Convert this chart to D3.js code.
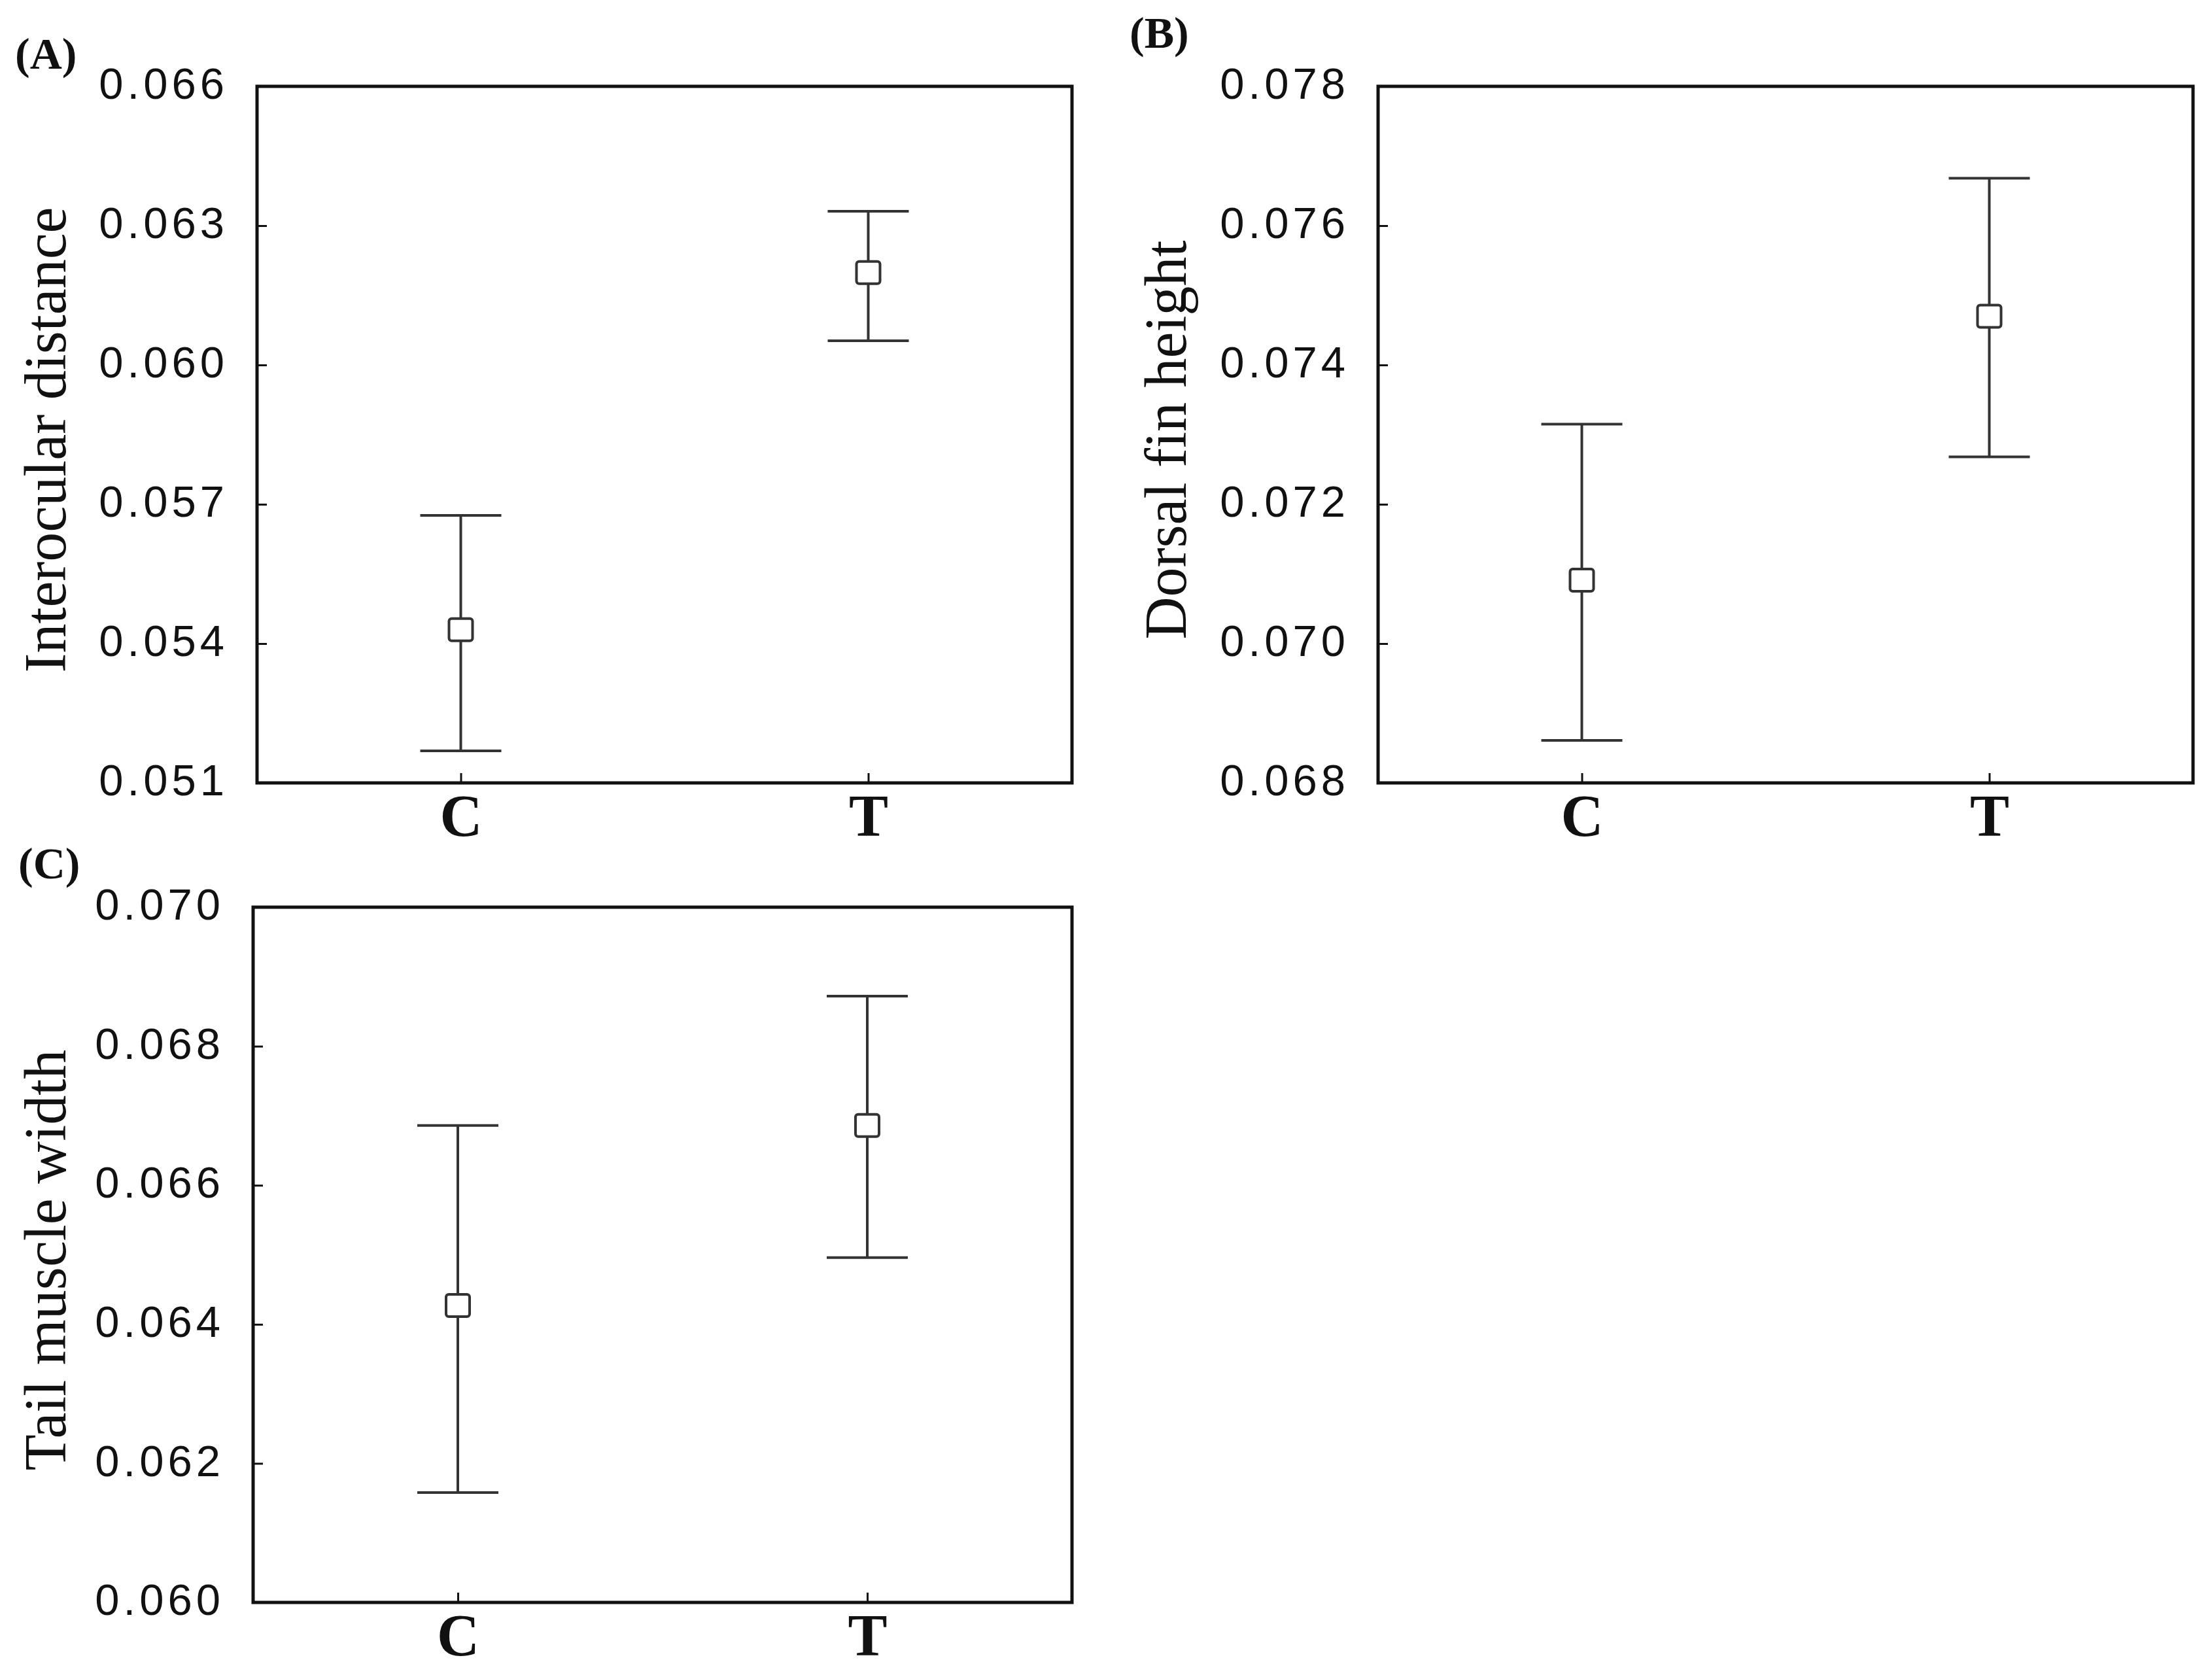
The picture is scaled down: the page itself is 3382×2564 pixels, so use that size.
<!DOCTYPE html>
<html>
<head>
    <script src="https://cdnjs.cloudflare.com/ajax/libs/d3/7.8.5/d3.min.js"></script>
    <style>
        body { margin: 0; background: #fff; }
        .tick-label {
            font-family: "Liberation Sans", Arial, sans-serif;
            font-size: 67px;
            letter-spacing: 6px;
            fill: #111;
        }
        .y-title {
            font-family: "Liberation Serif", "Times New Roman", serif;
            font-size: 90px;
            fill: #111;
        }
        .x-cat {
            font-family: "Liberation Serif", "Times New Roman", serif;
            font-size: 90px;
            font-weight: bold;
            fill: #111;
        }
        .panel-tag {
            font-family: "Liberation Serif", "Times New Roman", serif;
            font-size: 68px;
            font-weight: bold;
            fill: #111;
        }
    </style>
</head>
<body>
    <svg id="fig" width="3382" height="2564"></svg>

    <script>
        // data
        const groups = ["C", "T"];

        const interocularMean = [0.0543, 0.06199];
        const interocularLow  = [0.05169, 0.06052];
        const interocularHigh = [0.05676, 0.06331];
        const interocularTicks = [0.051, 0.054, 0.057, 0.060, 0.063, 0.066];

        const dorsalMean = [0.07091, 0.0747];
        const dorsalLow  = [0.06861, 0.07268];
        const dorsalHigh = [0.07315, 0.07668];
        const dorsalTicks = [0.068, 0.070, 0.072, 0.074, 0.076, 0.078];

        const tailMean = [0.06427, 0.06686];
        const tailLow  = [0.06158, 0.06496];
        const tailHigh = [0.06686, 0.06872];
        const tailTicks = [0.060, 0.062, 0.064, 0.066, 0.068, 0.070];

        const svg = d3.select("#fig");

        const panels = [
            { tag: "(A)", tagX: 23, tagY: 105, title: "Interocular distance",
              box: { x: 393, y: 132, w: 1246, h: 1065 }, titleX: 100,
              mean: interocularMean, lo: interocularLow, hi: interocularHigh, ticks: interocularTicks },
            { tag: "(B)", tagX: 1727, tagY: 73, title: "Dorsal fin height",
              box: { x: 2107, y: 132, w: 1246, h: 1065 }, titleX: 1813,
              mean: dorsalMean, lo: dorsalLow, hi: dorsalHigh, ticks: dorsalTicks },
            { tag: "(C)", tagX: 28, tagY: 1343, title: "Tail muscle width",
              box: { x: 387, y: 1387, w: 1252, h: 1063 }, titleX: 100,
              mean: tailMean, lo: tailLow, hi: tailHigh, ticks: tailTicks }
        ];

        panels.forEach(p => drawPanel(p));

        function drawPanel(p) {
            const b = p.box;
            const g = svg.append("g").attr("transform", `translate(${b.x},${b.y})`);

            const y = d3.scaleLinear()
                .domain(d3.extent(p.ticks))
                .range([b.h, 0]);
            const x = d3.scalePoint()
                .domain(groups)
                .range([0, b.w])
                .padding(0.5);

            // y axis, ticks pointing inward
            const yAxis = g.append("g")
                .call(d3.axisLeft(y)
                    .tickValues(p.ticks)
                    .tickFormat(d3.format(".3f"))
                    .tickSizeInner(-15)
                    .tickSizeOuter(0)
                    .tickPadding(44));
            yAxis.select(".domain").remove();
            yAxis.selectAll("line").attr("stroke", "#111").attr("stroke-width", 3);
            yAxis.selectAll("text")
                .attr("class", "tick-label")
                .attr("font-size", null)
                .attr("font-family", null)
                .attr("dy", "0.28em");

            // x axis
            const xAxis = g.append("g")
                .attr("transform", `translate(0,${b.h})`)
                .call(d3.axisBottom(x)
                    .tickSizeInner(-15)
                    .tickSizeOuter(0)
                    .tickPadding(72));
            xAxis.select(".domain").remove();
            xAxis.selectAll("line").attr("stroke", "#111").attr("stroke-width", 3);
            xAxis.selectAll("text")
                .attr("class", "x-cat")
                .attr("font-size", null)
                .attr("font-family", null)
                .attr("dy", "0.1em");

            // frame
            g.append("rect")
                .attr("x", 0).attr("y", 0)
                .attr("width", b.w).attr("height", b.h)
                .attr("fill", "none")
                .attr("stroke", "#111")
                .attr("stroke-width", 5);

            const rows = groups.map((k, i) => ({ k, m: p.mean[i], lo: p.lo[i], hi: p.hi[i] }));
            const capHalf = 62;

            const bars = g.selectAll(".bar").data(rows).enter().append("g").attr("class", "bar");
            bars.append("line")
                .attr("x1", d => x(d.k)).attr("x2", d => x(d.k))
                .attr("y1", d => y(d.lo)).attr("y2", d => y(d.hi))
                .attr("stroke", "#333").attr("stroke-width", 4);
            bars.append("line")
                .attr("x1", d => x(d.k) - capHalf).attr("x2", d => x(d.k) + capHalf)
                .attr("y1", d => y(d.hi)).attr("y2", d => y(d.hi))
                .attr("stroke", "#333").attr("stroke-width", 4);
            bars.append("line")
                .attr("x1", d => x(d.k) - capHalf).attr("x2", d => x(d.k) + capHalf)
                .attr("y1", d => y(d.lo)).attr("y2", d => y(d.lo))
                .attr("stroke", "#333").attr("stroke-width", 4);
            bars.append("rect")
                .attr("x", d => x(d.k) - 18).attr("y", d => y(d.m) - 17)
                .attr("width", 36).attr("height", 34)
                .attr("rx", 4)
                .attr("fill", "#fff")
                .attr("stroke", "#333").attr("stroke-width", 4);

            // y title
            svg.append("text")
                .attr("class", "y-title")
                .attr("text-anchor", "middle")
                .attr("transform", `translate(${p.titleX},${b.y + b.h / 2 + 8}) rotate(-90)`)
                .text(p.title);

            // panel tag
            svg.append("text")
                .attr("class", "panel-tag")
                .attr("x", p.tagX).attr("y", p.tagY)
                .text(p.tag);
        }
    </script>
</body>
</html>
